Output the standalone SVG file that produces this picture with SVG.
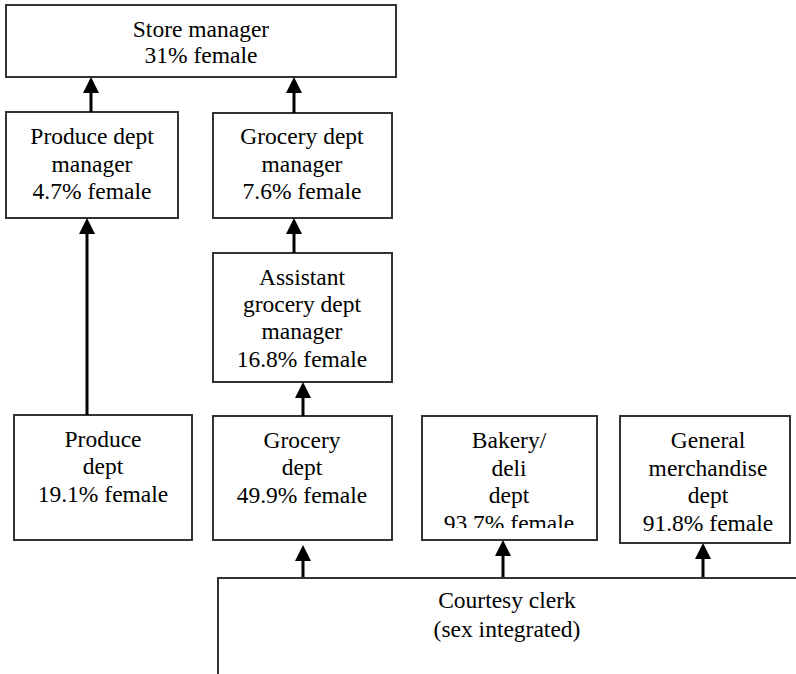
<svg xmlns="http://www.w3.org/2000/svg" width="796" height="674" viewBox="0 0 796 674">
<style>
.box{fill:#fff;stroke:#333;stroke-width:2}
.t{font-family:'Liberation Serif','Times New Roman',serif;font-size:23.5px;fill:#000;text-anchor:middle}
.arr{stroke:#000;stroke-width:3;fill:none}
</style>
<defs>
<marker id="ah" markerUnits="userSpaceOnUse" viewBox="0 0 16 16" markerWidth="16" markerHeight="16" refX="0" refY="8" orient="auto">
<path d="M0,0 L16,8 L0,16 z" fill="#000"/>
</marker>
<clipPath id="bclip"><rect x="422" y="416" width="175" height="112"/></clipPath>
</defs>
<rect width="796" height="674" fill="#fff"/>
<g id="store-manager">
<rect class="box" x="6" y="5" width="390" height="72"/>
<text class="t" x="201" y="37">Store manager</text>
<text class="t" x="201" y="63">31% female</text>
</g>
<g id="produce-dept-manager">
<rect class="box" x="6" y="112" width="172" height="106"/>
<text class="t" x="92" y="144">Produce dept</text>
<text class="t" x="92" y="172">manager</text>
<text class="t" x="92" y="199">4.7% female</text>
</g>
<g id="grocery-dept-manager">
<rect class="box" x="213" y="113" width="179" height="105"/>
<text class="t" x="302" y="144">Grocery dept</text>
<text class="t" x="302" y="172">manager</text>
<text class="t" x="302" y="199">7.6% female</text>
</g>
<g id="assistant-grocery-dept-manager">
<rect class="box" x="213" y="253" width="179" height="129"/>
<text class="t" x="302" y="285">Assistant</text>
<text class="t" x="302" y="312">grocery dept</text>
<text class="t" x="302" y="339">manager</text>
<text class="t" x="302" y="367">16.8% female</text>
</g>
<g id="produce-dept">
<rect class="box" x="14" y="415" width="178" height="125"/>
<text class="t" x="103" y="447">Produce</text>
<text class="t" x="103" y="474">dept</text>
<text class="t" x="103" y="502">19.1% female</text>
</g>
<g id="grocery-dept">
<rect class="box" x="213" y="416" width="179" height="124"/>
<text class="t" x="302" y="448">Grocery</text>
<text class="t" x="302" y="475">dept</text>
<text class="t" x="302" y="503">49.9% female</text>
</g>
<g id="bakery-deli-dept">
<rect class="box" x="422" y="416" width="175" height="124"/>
<g clip-path="url(#bclip)">
<text class="t" x="509" y="448">Bakery/</text>
<text class="t" x="509" y="476">deli</text>
<text class="t" x="509" y="503">dept</text>
<text class="t" x="509" y="531">93.7% female</text>
</g>
</g>
<g id="general-merchandise-dept">
<rect class="box" x="620" y="416" width="170" height="127"/>
<text class="t" x="708" y="448">General</text>
<text class="t" x="708" y="476">merchandise</text>
<text class="t" x="708" y="503">dept</text>
<text class="t" x="708" y="531">91.8% female</text>
</g>
<g id="courtesy-clerk">
<path class="box" d="M218,674 L218,578 L797,578" fill="none"/>
<text class="t" x="507" y="608">Courtesy clerk</text>
<text class="t" x="507" y="637">(sex integrated)</text>
</g>
<g id="connectors">
<line class="arr" x1="91" y1="112" x2="91" y2="93" marker-end="url(#ah)"/>
<line class="arr" x1="294" y1="113" x2="294" y2="93" marker-end="url(#ah)"/>
<line class="arr" x1="87" y1="415" x2="87" y2="234" marker-end="url(#ah)"/>
<line class="arr" x1="294" y1="253" x2="294" y2="234" marker-end="url(#ah)"/>
<line class="arr" x1="303" y1="416" x2="303" y2="398" marker-end="url(#ah)"/>
<line class="arr" x1="303" y1="577" x2="303" y2="561" marker-end="url(#ah)"/>
<line class="arr" x1="503" y1="577" x2="503" y2="556" marker-end="url(#ah)"/>
<line class="arr" x1="703" y1="577" x2="703" y2="559" marker-end="url(#ah)"/>
</g>
</svg>
